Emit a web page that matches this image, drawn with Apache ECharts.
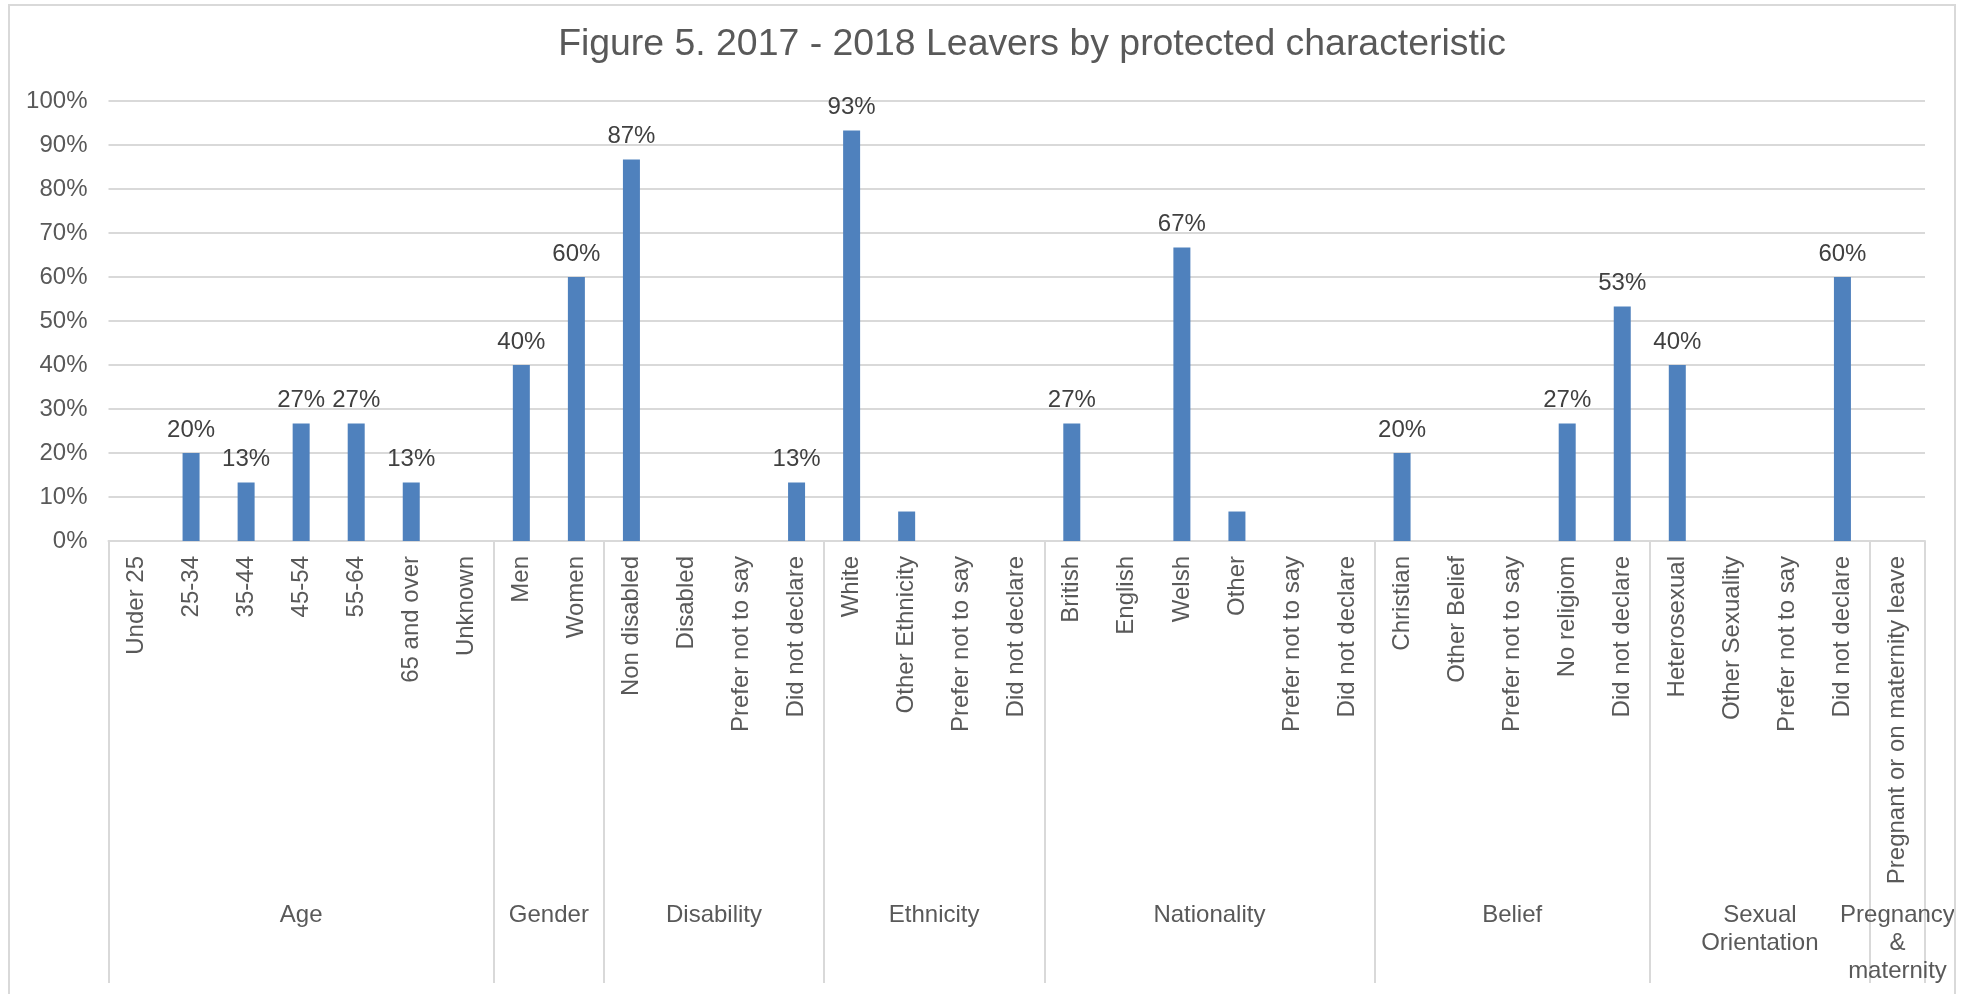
<!DOCTYPE html>
<html>
<head>
<meta charset="utf-8">
<script src="https://cdn.jsdelivr.net/npm/echarts@6/dist/echarts.min.js"></script>
<style>
  html, body { margin: 0; padding: 0; background: #fff; }
  #leavers-chart { position: absolute; left: 0; top: 0; width: 1977px; height: 994px; }
  #frame {
    position: absolute; left: 8px; top: 4px; width: 1948px; height: 1000px;
    box-sizing: border-box; border: 2px solid #d9d9d9; pointer-events: none;
  }
</style>
</head>
<body>
<div id="leavers-chart"></div>
<div id="frame"></div>
<script>
const categories = [
  "Under 25", "25-34", "35-44", "45-54", "55-64", "65 and over", "Unknown",
  "Men", "Women",
  "Non disabled", "Disabled", "Prefer not to say", "Did not declare",
  "White", "Other Ethnicity", "Prefer not to say", "Did not declare",
  "British", "English", "Welsh", "Other", "Prefer not to say", "Did not declare",
  "Christian", "Other Belief", "Prefer not to say", "No religiom", "Did not declare",
  "Heterosexual", "Other Sexuality", "Prefer not to say", "Did not declare",
  "Pregnant or on maternity leave"
];
const values = [
  0, 20, 13.3, 26.7, 26.7, 13.3, 0,
  40, 60,
  86.7, 0, 0, 13.3,
  93.3, 6.7, 0, 0,
  26.7, 0, 66.7, 6.7, 0, 0,
  20, 0, 0, 26.7, 53.3,
  40, 0, 0, 60,
  0
];
const groupNames = ["Age", "Gender", "Disability", "Ethnicity", "Nationality", "Belief",
  "Sexual\nOrientation", "Pregnancy\n&\nmaternity"];
const groupSizes = [7, 2, 4, 4, 6, 5, 4, 1];
const yTicks = [0, 10, 20, 30, 40, 50, 60, 70, 80, 90, 100];

// group start indices (separators) and midpoints (group labels)
const groupStarts = [];
const groupMids = {};
let acc = 0;
groupSizes.forEach((n, i) => {
  groupStarts.push(acc);
  groupMids[acc + n / 2] = groupNames[i];
  acc += n;
});

const font = "'Liberation Sans', Arial, sans-serif";
const grey = "#595959";
const lineGrey = "#d9d9d9";

const chart = echarts.init(document.getElementById("leavers-chart"));
chart.setOption({
  animation: false,
  title: {
    text: "Figure 5. 2017 - 2018 Leavers by protected characteristic",
    left: 1027,
    top: 21,
    textAlign: "center",
    textStyle: { fontFamily: font, fontSize: 37.4, fontWeight: "normal", color: grey },
  },
  grid: { left: 108.5, right: 52, top: 101, bottom: 453 },
  xAxis: [
    {
      type: "category",
      position: "bottom",
      data: categories,
      axisLine: { lineStyle: { color: lineGrey, width: 2 } },
      axisTick: {
        show: true,
        length: 442,
        interval: (index) => groupStarts.indexOf(index) >= 0,
        lineStyle: { color: lineGrey, width: 2 },
      },
      axisLabel: {
        interval: 0,
        rotate: 90,
        margin: 15,
        fontFamily: font,
        fontSize: 24,
        color: grey,
      },
      splitLine: { show: false },
    },
    {
      type: "value",
      position: "bottom",
      min: 0,
      max: categories.length,
      interval: 0.5,
      axisLine: { show: false },
      axisTick: { show: false },
      splitLine: { show: false },
      axisLabel: {
        margin: 360,
        fontFamily: font,
        fontSize: 24,
        lineHeight: 28,
        color: grey,
        formatter: (v) => groupMids[v] || "",
      },
    },
  ],
  yAxis: {
    type: "value",
    min: 0,
    max: 100,
    interval: 10,
    axisLine: { show: false },
    axisTick: { show: false },
    splitLine: { lineStyle: { color: lineGrey, width: 2 } },
    axisLabel: {
      margin: 21,
      fontFamily: font,
      fontSize: 24,
      color: grey,
      formatter: (v) => (yTicks.indexOf(v) >= 0 ? v + "%" : ""),
    },
  },
  series: [
    {
      type: "bar",
      xAxisIndex: 0,
      data: values,
      barWidth: 17,
      itemStyle: { color: "#4f81bd" },
      label: {
        show: true,
        position: "top",
        distance: 11,
        fontFamily: font,
        fontSize: 24,
        color: "#404040",
        formatter: (p) => (p.value >= 10 ? Math.round(p.value) + "%" : ""),
      },
    },
  ],
});
</script>
</body>
</html>
